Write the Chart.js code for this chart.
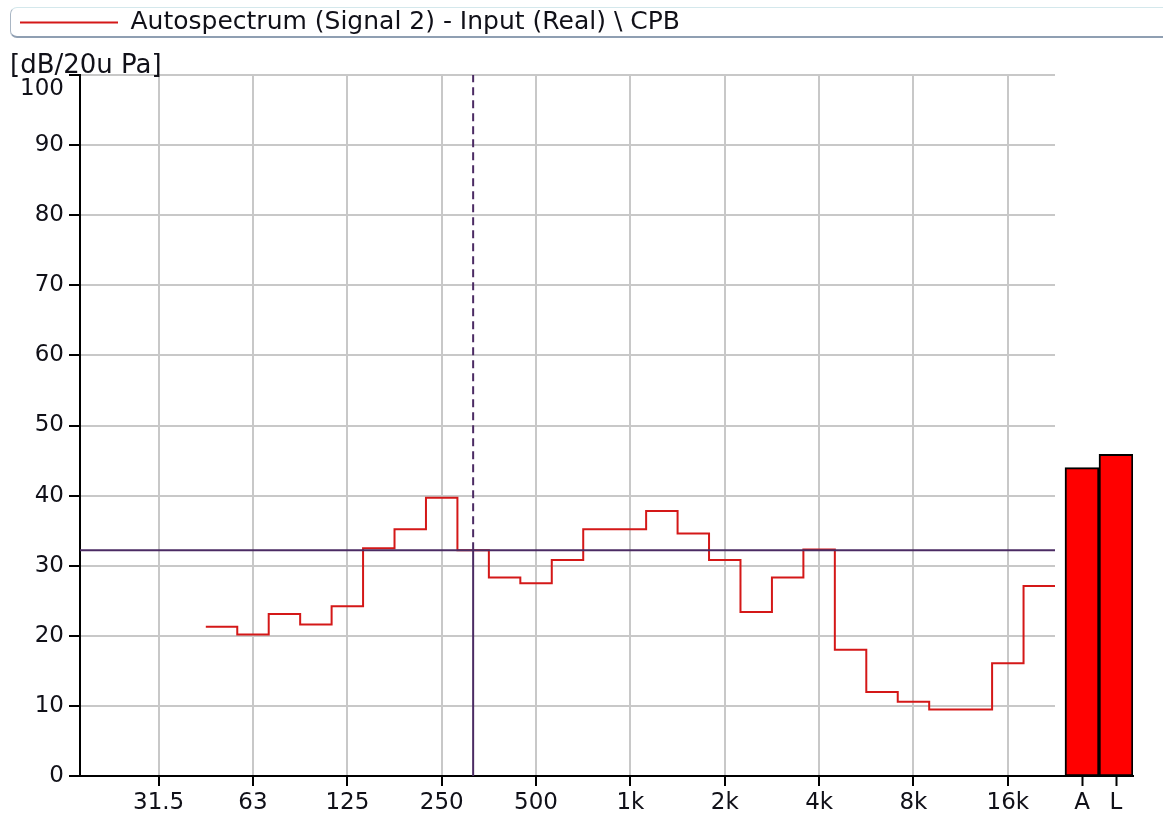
<!DOCTYPE html>
<html><head><meta charset="utf-8">
<script src="https://cdn.jsdelivr.net/npm/chart.js@4.4.1/dist/chart.umd.min.js"></script>
<style>
html,body{margin:0;padding:0;background:#fff;}
#wrap{position:relative;width:1163px;height:818px;overflow:hidden;background:#fff;}
#legendFrame{position:absolute;left:10px;top:7px;width:1170px;height:28px;border:1px solid #a9b6c4;border-top-color:#d4e8ec;border-bottom:2px solid #8f9fb2;border-radius:7px 0 0 7px;}
canvas{position:absolute;left:0;top:0;}
</style></head><body>
<div id="wrap">
<div id="legendFrame"></div>
<canvas id="c1" width="1163" height="818"></canvas>
<canvas id="c2" width="1163" height="818"></canvas>
</div>
<script>
// ---- data ----
const bandLabels = ['20','25','31.5','40','50','63','80','100','125','160','200','250','315','400','500','630','800','1k','1.25k','1.6k','2k','2.5k','3.15k','4k','5k','6.3k','8k','10k','12.5k','16k','20k'];
const levels = [null,null,null,null,21.3,20.2,23.1,21.6,24.2,32.5,35.2,39.7,32.2,28.3,27.5,30.8,35.2,35.2,37.8,34.6,30.8,23.4,28.3,32.3,18.0,12.0,10.6,9.5,9.5,16.1,27.1];
const octaveTickLabels = ['31.5','63','125','250','500','1k','2k','4k','8k','16k'];
const overallLabels = ['A','L'];
const overallValues = [44.0, 45.9];
const cursorBand = 12; // 315 Hz band
const seriesName = 'Autospectrum (Signal 2) - Input (Real) \\ CPB';
const yUnit = '[dB/20u Pa]';
const yMin = 0, yMax = 100, yStep = 10;

// ---- styles ----
const FAMILY = "'DejaVu Sans', sans-serif";
const TXT = '#101018';
const GRID = '#c8c8c8';
const RED = '#d41818';
const CURSOR = '#4b2b63';

// ---- derived ----
const stepPts = [];
levels.forEach((v, i) => { if (v !== null) stepPts.push({x: i, y: v}); });
stepPts.push({x: levels.length, y: levels[levels.length - 1]});
const cursorLevel = levels[cursorBand];
const cursorX = cursorBand + 0.5;

const c1 = new Chart(document.getElementById('c1'), {
  type: 'line',
  data: {
    datasets: [
      {label: 'cursorH', data: [{x: 0, y: cursorLevel}, {x: levels.length, y: cursorLevel}], borderColor: CURSOR, borderWidth: 2, pointRadius: 0},
      {label: 'cursorV', data: [{x: cursorX, y: yMin}, {x: cursorX, y: cursorLevel}], borderColor: CURSOR, borderWidth: 2, pointRadius: 0},
      {label: 'cursorVd', data: [{x: cursorX, y: cursorLevel}, {x: cursorX, y: yMax}], borderColor: CURSOR, borderWidth: 2, borderDash: [8, 5], pointRadius: 0},
      {label: seriesName, data: stepPts, stepped: 'before', borderColor: RED, backgroundColor: RED, borderWidth: 2, pointRadius: 0, fill: false}
    ]
  },
  options: {
    responsive: false, animation: false,
    layout: {padding: {left: 10, right: 108, top: 0, bottom: 0}},
    plugins: {
      legend: {
        display: true, position: 'top', align: 'start',
        labels: {
          filter: (item) => item.datasetIndex === 3,
          usePointStyle: true, pointStyle: 'line', pointStyleWidth: 98,
          padding: 10, color: TXT, font: {family: FAMILY, size: 25}
        }
      },
      title: {
        display: true, text: yUnit, align: 'start', weight: 500, color: TXT,
        font: {family: FAMILY, size: 26, weight: 'normal', lineHeight: 1},
        padding: {top: 8, bottom: -4}
      },
      tooltip: {enabled: false}
    },
    scales: {
      x: {
        type: 'linear', min: 0, max: levels.length,
        afterBuildTicks: (s) => { s.ticks = octaveTickLabels.map(l => ({value: bandLabels.indexOf(l) + 0.5})); },
        ticks: {autoSkip: false, maxRotation: 0, padding: 3, color: TXT, font: {family: FAMILY, size: 23},
          callback: (v, i) => octaveTickLabels[i]},
        grid: {color: GRID, lineWidth: 2, tickColor: '#000', tickWidth: 2, tickLength: 10},
        border: {color: '#000', width: 2},
        afterFit: (s) => { s.height = 42; }
      },
      y: {
        min: yMin, max: yMax,
        ticks: {stepSize: yStep, padding: 5, color: TXT, font: {family: FAMILY, size: 23},
          callback: (v) => v === yMax ? ['', String(v)] : String(v)},
        grid: {color: GRID, lineWidth: 2, tickColor: '#000', tickWidth: 2, tickLength: 11},
        border: {color: '#000', width: 2},
        afterFit: (s) => { s.width = 70; }
      }
    }
  }
});

const a1 = c1.chartArea;
const gapPx = 10, barPx = 34;
new Chart(document.getElementById('c2'), {
  type: 'bar',
  data: {
    datasets: [{
      data: overallValues.map((v, i) => ({x: i, y: v})),
      backgroundColor: '#ff0000', borderColor: '#000', borderWidth: 2, borderSkipped: false,
      barPercentage: 1, categoryPercentage: 1
    }]
  },
  options: {
    responsive: false, animation: false,
    layout: {padding: {left: a1.right, right: 1163 - (a1.right + gapPx + barPx * overallLabels.length), top: a1.top, bottom: 0}},
    plugins: {legend: {display: false}, title: {display: false}, tooltip: {enabled: false}},
    scales: {
      x: {
        type: 'linear', offset: false, min: -0.5 - gapPx / barPx, max: overallLabels.length - 0.5,
        afterBuildTicks: (s) => { s.ticks = overallLabels.map((l, i) => ({value: i})); },
        ticks: {autoSkip: false, maxRotation: 0, padding: 3, color: TXT, font: {family: FAMILY, size: 23},
          callback: (v, i) => overallLabels[i]},
        grid: {drawOnChartArea: false, offset: false, tickColor: '#000', tickWidth: 2, tickLength: 10},
        border: {color: '#000', width: 2},
        afterFit: (s) => { s.height = 42; }
      },
      y: {display: false, min: yMin, max: yMax}
    }
  }
});
</script>
</body></html>
